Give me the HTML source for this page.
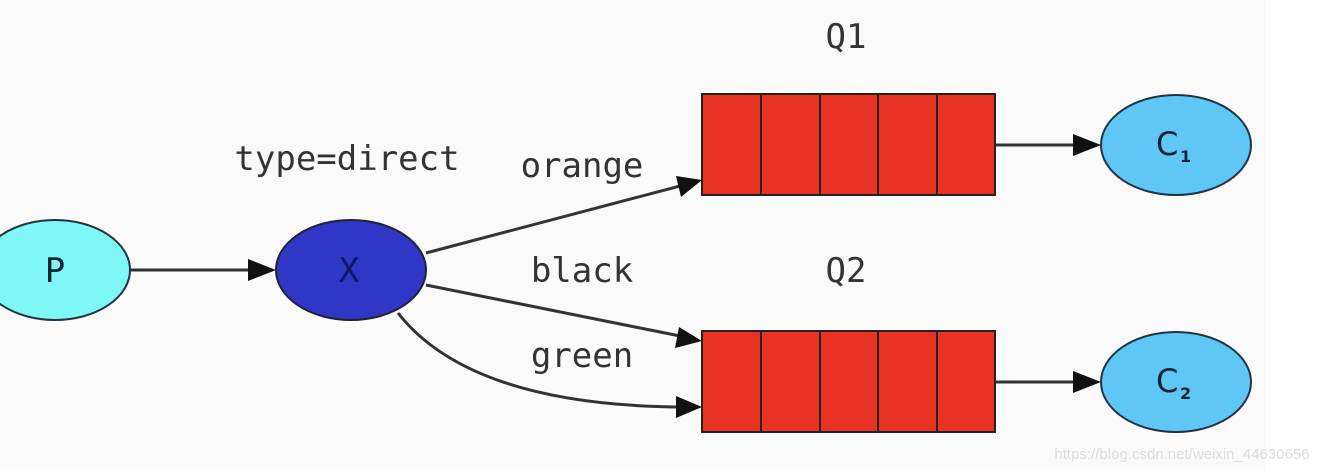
<!DOCTYPE html>
<html><head><style>
html,body{margin:0;padding:0;background:#fff;}
svg{display:block;}
</style></head><body>
<svg width="1326" height="470" xmlns="http://www.w3.org/2000/svg">
<rect x="0" y="0" width="1265" height="470" fill="#fafafa"/>
<g stroke="#333" stroke-width="3" fill="none">
<line x1="130" y1="270" x2="252" y2="270"/>
<line x1="426" y1="253" x2="680" y2="186"/>
<line x1="426" y1="285" x2="680" y2="336"/>
<path d="M398 313 Q470 405 680 407"/>
<line x1="995" y1="145" x2="1078" y2="145"/>
<line x1="995" y1="382" x2="1078" y2="382"/>
</g>
<g fill="#111">
<polygon points="276,270 248,259 248,281"/>
<polygon points="702,180 676,176 681,197"/>
<polygon points="702,341 679,327 675,348"/>
<polygon points="702,407 676,396 676,418"/>
<polygon points="1101,145 1073,134 1073,156"/>
<polygon points="1101,382 1073,371 1073,393"/>
</g>
<ellipse cx="55" cy="270" rx="75" ry="50" fill="#7ff7f7" stroke="#234" stroke-width="2"/>
<ellipse cx="351" cy="270" rx="75" ry="50" fill="#3036c6" stroke="#223" stroke-width="2"/>
<ellipse cx="1176" cy="145" rx="75" ry="50" fill="#5ec7f5" stroke="#234" stroke-width="2"/>
<ellipse cx="1176" cy="382" rx="75" ry="50" fill="#5ec7f5" stroke="#234" stroke-width="2"/>
<g fill="#e83223" stroke="#222" stroke-width="2">
<rect x="702" y="94" width="293" height="101"/>
<rect x="702" y="331" width="293" height="101"/>
</g>
<g stroke="#222" stroke-width="2">
<line x1="761" y1="94" x2="761" y2="195"/><line x1="820" y1="94" x2="820" y2="195"/><line x1="878" y1="94" x2="878" y2="195"/><line x1="937" y1="94" x2="937" y2="195"/>
<line x1="761" y1="331" x2="761" y2="432"/><line x1="820" y1="331" x2="820" y2="432"/><line x1="878" y1="331" x2="878" y2="432"/><line x1="937" y1="331" x2="937" y2="432"/>
</g>
<g font-family="'DejaVu Sans Mono','Liberation Mono',monospace" font-size="34" fill="#333" text-anchor="middle">
<text x="347" y="170">type=direct</text>
<text x="582" y="177">orange</text>
<text x="582" y="282">black</text>
<text x="582" y="367">green</text>
<text x="846" y="48">Q1</text>
<text x="846" y="282">Q2</text>
<text x="55" y="282" fill="#123">P</text>
<text x="349" y="282" fill="#111a60">X</text>
</g>
<g font-family="'DejaVu Sans','Liberation Sans',sans-serif" fill="#123" font-weight="bold">
<text x="1156" y="155" font-size="32" font-weight="normal">C</text>
<text x="1180" y="162" font-size="16">1</text>
<text x="1156" y="392" font-size="32" font-weight="normal">C</text>
<text x="1180" y="399" font-size="16">2</text>
</g>
<text x="1182" y="459" font-family="'Liberation Sans',sans-serif" font-size="15" fill="#ddd" text-anchor="middle">https://blog.csdn.net/weixin_44630656</text>
</svg>
</body></html>
